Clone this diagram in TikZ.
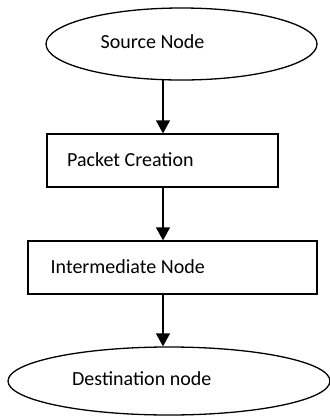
\documentclass[tikz,border=0pt]{standalone}
\usepackage{fontspec}
\setmainfont{Carlito}
\usetikzlibrary{shapes.geometric,arrows.meta}
\begin{document}
\begin{tikzpicture}[x=1pt,y=-1pt,
  shapeline/.style={draw=black,line width=1.3pt},
  oval/.style={shapeline,ellipse,inner sep=0pt},
  boxnode/.style={shapeline,rectangle,inner sep=0pt},
  lbl/.style={font=\fontsize{20}{24}\selectfont,anchor=base west,inner sep=0pt},
  flow/.style={line width=1.3pt,-{Triangle[length=13pt,width=14pt]}}]
\useasboundingbox (0,0) rectangle (330,416);
\node[oval,minimum width=271pt,minimum height=72pt] (src) at (181.5,44) {};
\node[lbl] (srct) at (100.5,48.3) {Source Node};
\node[boxnode,minimum width=231pt,minimum height=53pt] (pkt) at (162.5,160.5) {};
\node[lbl] (pktt) at (67,166.7) {Packet Creation};
\node[boxnode,minimum width=289pt,minimum height=53pt] (mid) at (172.5,267.5) {};
\node[lbl] (midt) at (50.5,273) {Intermediate Node};
\node[oval,minimum width=322pt,minimum height=68pt] (dst) at (169,381) {};
\node[lbl] (dstt) at (72,385.3) {Destination node};
\coordinate (a1s) at (163,80);
\draw[flow] (a1s) -- (a1s |- pkt.north);
\draw[flow] (a1s |- pkt.south) -- (a1s |- mid.north);
\draw[flow] (a1s |- mid.south) -- (a1s |- dst.north);
\end{tikzpicture}
\end{document}
